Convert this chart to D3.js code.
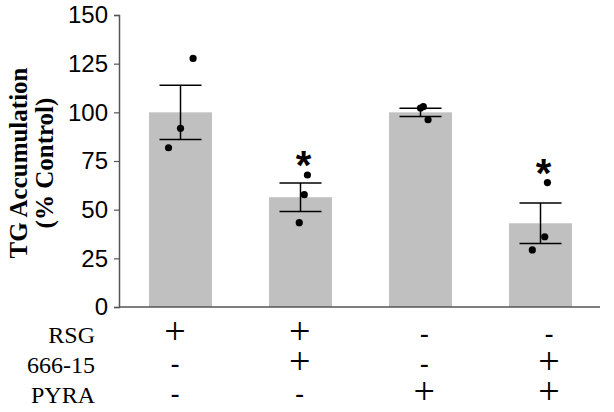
<!DOCTYPE html>
<html>
<head>
<meta charset="utf-8">
<script src="https://cdn.jsdelivr.net/npm/d3@7"></script>
<style>
  html, body { margin: 0; padding: 0; background: #fff; }
  svg { display: block; }
</style>
</head>
<body>
<svg id="chart" width="614" height="412"></svg>
<script>
// ---- data ----
const groups = ["G1", "G2", "G3", "G4"];
const means = [100, 56.4, 100, 43.0];
const sems = [13.9, 7.3, 2.1, 10.4];
const replicates = [
  [127.7, 91.8, 81.8],
  [67.8, 57.7, 43.3],
  [102.9, 102.2, 96.2],
  [63.9, 36.1, 29.3]
];
// horizontal jitter of replicate dots, as fraction of bar width
const jitter = [
  [0.20, 0.00, -0.19],
  [0.11, 0.06, -0.02],
  [0.045, 0.00, 0.12],
  [0.11, 0.067, -0.13]
];
const significant = [false, true, false, true];
const treatments = ["RSG", "666-15", "PYRA"];
const treatmentTable = [
  ["+", "+", "-", "-"],
  ["-", "+", "-", "+"],
  ["-", "-", "+", "+"]
];
const yTicks = [0, 25, 50, 75, 100, 125, 150];
const yLabelLines = ["TG Accumulation", "(% Control)"];

// ---- layout ----
const svg = d3.select("#chart");
const axisX = 119, axisRight = 600;
const y = d3.scaleLinear().domain([0, 150]).range([307, 15]);
const x = d3.scaleBand().domain(groups).range([120.5, 600.5])
  .paddingInner(0.475).paddingOuter(0.2375);
const tableX = d3.scalePoint().domain(groups).range([175, 549]);
const serif = "'Liberation Serif', 'Times New Roman', serif";
const sans = "'Liberation Sans', Arial, sans-serif";

const data = groups.map((g, i) => ({
  g, mean: means[i], sem: sems[i], pts: replicates[i], jit: jitter[i], sig: significant[i]
}));

// bars
svg.append("g").selectAll("rect").data(data).join("rect")
  .attr("x", d => x(d.g))
  .attr("y", d => y(d.mean))
  .attr("width", x.bandwidth())
  .attr("height", d => y(0) - y(d.mean))
  .attr("fill", "#c0c0c0");

// y axis
const yAxis = d3.axisLeft(y).tickValues(yTicks).tickSize(5).tickPadding(6);
const gy = svg.append("g").attr("transform", `translate(${axisX},0)`).call(yAxis);
gy.select(".domain").attr("stroke", "#555").attr("stroke-width", 1.5);
gy.selectAll(".tick line").attr("stroke", "#555").attr("stroke-width", 1.2);
gy.selectAll(".tick text").attr("font-family", sans).attr("font-size", 24)
  .attr("fill", "#000");

// x axis baseline
svg.append("line").attr("x1", axisX).attr("x2", axisRight)
  .attr("y1", y(0)).attr("y2", y(0))
  .attr("stroke", "#555").attr("stroke-width", 1.5);

// error bars
const capHalf = 21;
const eb = svg.append("g").attr("stroke", "#000").attr("stroke-width", 1.5);
data.forEach(d => {
  const cx = x(d.g) + x.bandwidth() / 2;
  eb.append("line").attr("x1", cx).attr("x2", cx)
    .attr("y1", y(d.mean + d.sem)).attr("y2", y(d.mean - d.sem));
  eb.append("line").attr("x1", cx - capHalf).attr("x2", cx + capHalf)
    .attr("y1", y(d.mean + d.sem)).attr("y2", y(d.mean + d.sem));
  eb.append("line").attr("x1", cx - capHalf).attr("x2", cx + capHalf)
    .attr("y1", y(d.mean - d.sem)).attr("y2", y(d.mean - d.sem));
});

// replicate points
const dots = [];
data.forEach(d => d.pts.forEach((v, j) => dots.push({ g: d.g, v, jit: d.jit[j] })));
svg.append("g").selectAll("circle").data(dots).join("circle")
  .attr("cx", d => x(d.g) + x.bandwidth() / 2 + d.jit * x.bandwidth())
  .attr("cy", d => y(d.v))
  .attr("r", 3.6)
  .attr("fill", "#000");

// significance asterisks
const starSize = 40;
svg.append("g").selectAll("text").data(data.filter(d => d.sig)).join("text")
  .attr("x", d => x(d.g) + x.bandwidth() / 2 + 3)
  .attr("y", d => y(d3.max(d.pts)) - 19 + 0.58 * starSize)
  .attr("text-anchor", "middle")
  .attr("font-family", sans).attr("font-weight", "bold")
  .attr("font-size", starSize)
  .text("*");

// y label
yLabelLines.forEach((t, i) => {
  svg.append("text")
    .attr("transform", `translate(${27 + i * 26},163) rotate(-90)`)
    .attr("text-anchor", "middle")
    .attr("font-family", serif).attr("font-weight", "bold")
    .attr("font-size", 25)
    .text(t);
});

// treatment table
const rowBase = i => 343 + i * 30;
treatments.forEach((t, i) => {
  svg.append("text")
    .attr("x", 95).attr("y", rowBase(i))
    .attr("text-anchor", "end")
    .attr("font-family", serif).attr("font-size", 24)
    .text(t);
  treatmentTable[i].forEach((s, j) => {
    const isPlus = s === "+";
    svg.append("text")
      .attr("x", tableX(groups[j]))
      .attr("y", rowBase(i) + (isPlus ? 1 : -1))
      .attr("text-anchor", "middle")
      .attr("font-family", serif)
      .attr("font-weight", isPlus ? "normal" : "bold")
      .attr("font-size", isPlus ? 38 : 26)
      .text(s);
  });
});
</script>
</body>
</html>
